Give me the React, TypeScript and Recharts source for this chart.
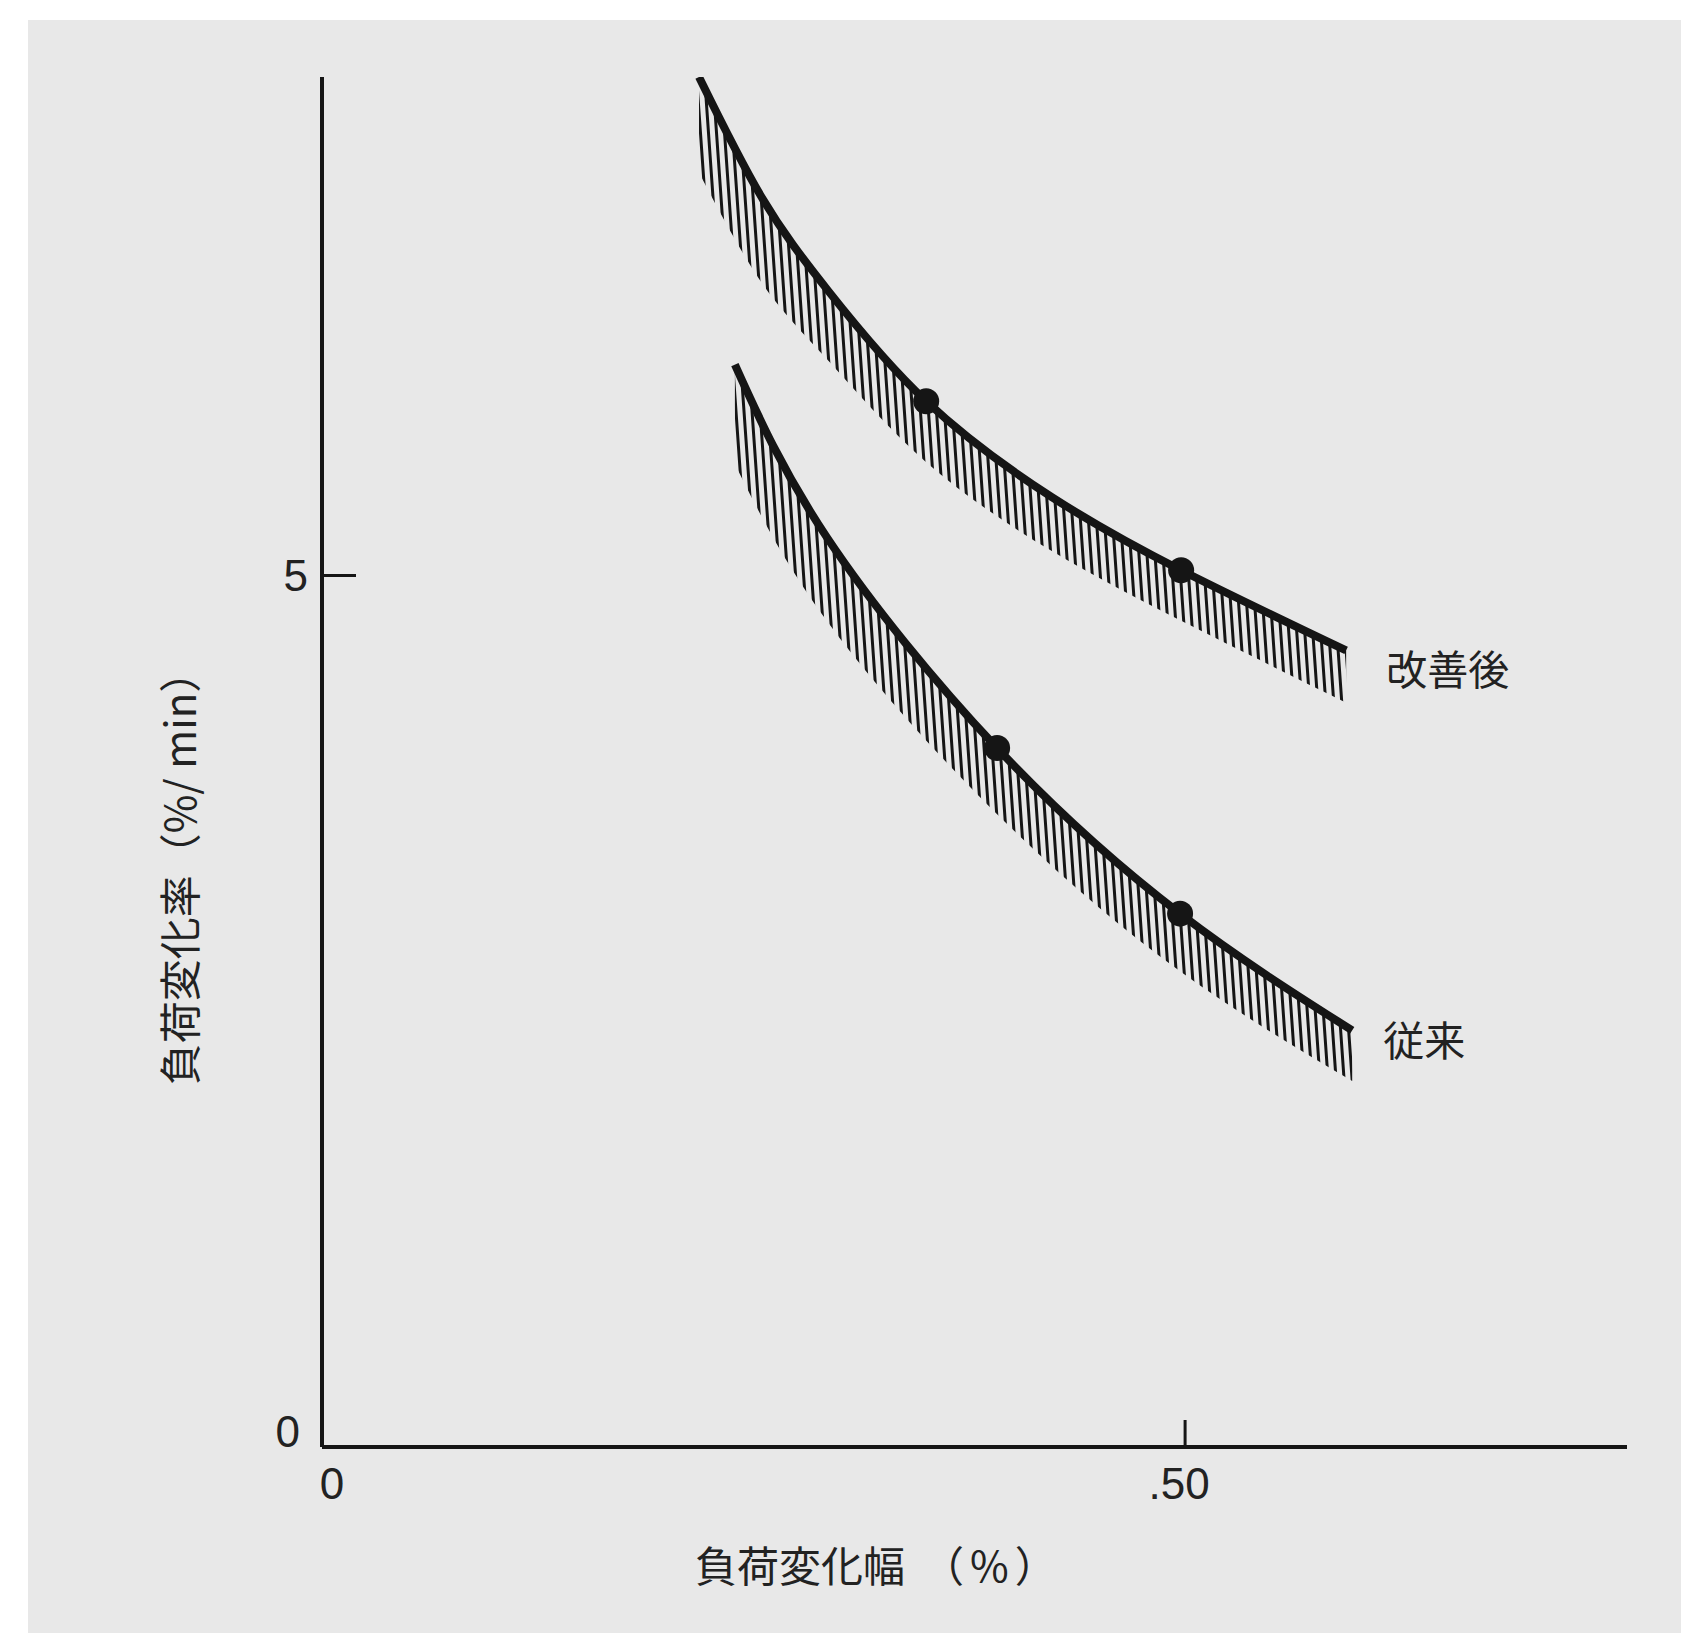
import { ComposedChart, Line, Area, XAxis, YAxis, Label } from 'recharts'

// load change width (%) vs load change rate (%/min)
const improvedX = [0.2184, 0.2547, 0.2935, 0.35, 0.4228, 0.4977, 0.5933]
const improvedY = [7.86, 7.17, 6.63, 6.0, 5.45, 5.03, 4.57]
const improvedHatch = [7.31, 6.68, 6.23, 5.65, 5.14, 4.74, 4.27]
const improvedMarks = [false, false, false, true, false, true, false]

const conventionalX = [0.2392, 0.2924, 0.3911, 0.4971, 0.5968]
const conventionalY = [6.21, 5.22, 4.01, 3.06, 2.39]
const conventionalHatch = [5.64, 4.74, 3.63, 2.73, 2.1]
const conventionalMarks = [false, false, true, true, false]

const xTicks = [0, 0.5]
const yTicks = [0, 5]
const xTickLabels = ['0', '.50']
const yTickLabels = ['0', '5']

const JP = '"Noto Sans CJK JP", "Noto Sans CJK SC", sans-serif'
const NUM = '"Liberation Sans", Arial, sans-serif'
const INK = '#151515'

function rows(xs: number[], ys: number[], hatch: number[], marks: boolean[]) {
  return xs.map((x, i) => ({ x, y: ys[i], band: [hatch[i], ys[i]], mark: marks[i] }))
}

const improved = rows(improvedX, improvedY, improvedHatch, improvedMarks)
const conventional = rows(conventionalX, conventionalY, conventionalHatch, conventionalMarks)

const XTick = (p: any) => {
  const v = p.payload.value
  const i = xTicks.indexOf(v)
  return (
    <g>
      {v !== 0 && <line x1={p.x} y1={p.y} x2={p.x} y2={p.y - 27} stroke={INK} strokeWidth={3} />}
      <text x={p.x + (v === 0 ? 10 : -6)} y={p.y + 52} textAnchor="middle" fontSize={44}
        fontFamily={NUM} fill="#222">{xTickLabels[i]}</text>
    </g>
  )
}

const YTick = (p: any) => {
  const v = p.payload.value
  const i = yTicks.indexOf(v)
  return (
    <g>
      {v !== 0 && <line x1={p.x} y1={p.y} x2={p.x + 34} y2={p.y} stroke={INK} strokeWidth={3} />}
      <text x={p.x - (v === 0 ? 22 : 14)} y={p.y + (v === 0 ? 0 : 16)} textAnchor="end" fontSize={44}
        fontFamily={NUM} fill="#222">{yTickLabels[i]}</text>
    </g>
  )
}

const dot = (p: any) =>
  p.payload.mark
    ? <circle key={`d${p.index}`} cx={p.cx} cy={p.cy} r={13} fill={INK} />
    : <g key={`d${p.index}`} />

const endLabel = (name: string, n: number, dx: number, dy: number) => (p: any) =>
  p.index === n - 1
    ? <text key={`l${p.index}`} x={p.x + dx} y={p.y + dy} dominantBaseline="central" fontSize={41}
        fontFamily={JP} fill="#222">{name}</text>
    : <g key={`l${p.index}`} />

export default function App() {
  return (
    <div style={{ position: 'absolute', left: 0, top: 0, width: 1681, height: 1633, background: '#fff' }}>
      <div style={{ position: 'absolute', left: 28, top: 20, right: 0, bottom: 0, background: '#e8e8e8' }} />
      <div style={{ position: 'absolute', left: 0, top: 0 }}>
        <ComposedChart width={1681} height={1633} margin={{ top: 77, right: 54, bottom: 0, left: 0 }}>
          <defs>
            <pattern id="hatch" width={8} height={40} patternUnits="userSpaceOnUse" patternTransform="rotate(-4)">
              <rect x={0} y={0} width={3} height={40} fill={INK} />
            </pattern>
          </defs>
          <XAxis type="number" dataKey="x" domain={[0, 0.756]} ticks={xTicks} allowDataOverflow
            height={186} tickSize={0} tickMargin={0} tick={XTick} interval={0}
            axisLine={{ stroke: INK, strokeWidth: 4 }} tickLine={false}>
            <Label content={({ viewBox }: any) => (
              <g fontSize={42} fontFamily={JP} fill="#222">
                <text x={viewBox.x + 373} y={viewBox.y + 135}>負荷変化幅</text>
                <text x={viewBox.x + 600} y={viewBox.y + 135}>
                  （<tspan dx={6}>%</tspan><tspan dx={6}>）</tspan>
                </text>
              </g>
            )} />
          </XAxis>
          <YAxis type="number" domain={[0, 7.86]} ticks={yTicks} allowDataOverflow width={322}
            tickSize={0} tickMargin={0} tick={YTick} interval={0}
            axisLine={{ stroke: INK, strokeWidth: 4 }} tickLine={false}>
            <Label content={({ viewBox }: any) => {
              const cx = viewBox.x + 177
              const cy = viewBox.y + viewBox.height / 2 + 106
              return (
                <text x={cx} y={cy} transform={`rotate(-90 ${cx} ${cy})`} textAnchor="middle"
                  dominantBaseline="central" fontSize={42} fontFamily={JP} fill="#222">負荷変化率（%/ min）</text>
              )
            }} />
          </YAxis>
          <Area data={improved} dataKey="band" type="natural" stroke="none" fill="url(#hatch)"
            fillOpacity={1} isAnimationActive={false} activeDot={false} />
          <Area data={conventional} dataKey="band" type="natural" stroke="none" fill="url(#hatch)"
            fillOpacity={1} isAnimationActive={false} activeDot={false} />
          <Line data={improved} dataKey="y" type="natural" stroke={INK} strokeWidth={8}
            dot={dot} activeDot={false} isAnimationActive={false}
            label={endLabel('改善後', improved.length, 40, 17)} />
          <Line data={conventional} dataKey="y" type="natural" stroke={INK} strokeWidth={8}
            dot={dot} activeDot={false} isAnimationActive={false}
            label={endLabel('従来', conventional.length, 31, 8)} />
        </ComposedChart>
      </div>
    </div>
  )
}
